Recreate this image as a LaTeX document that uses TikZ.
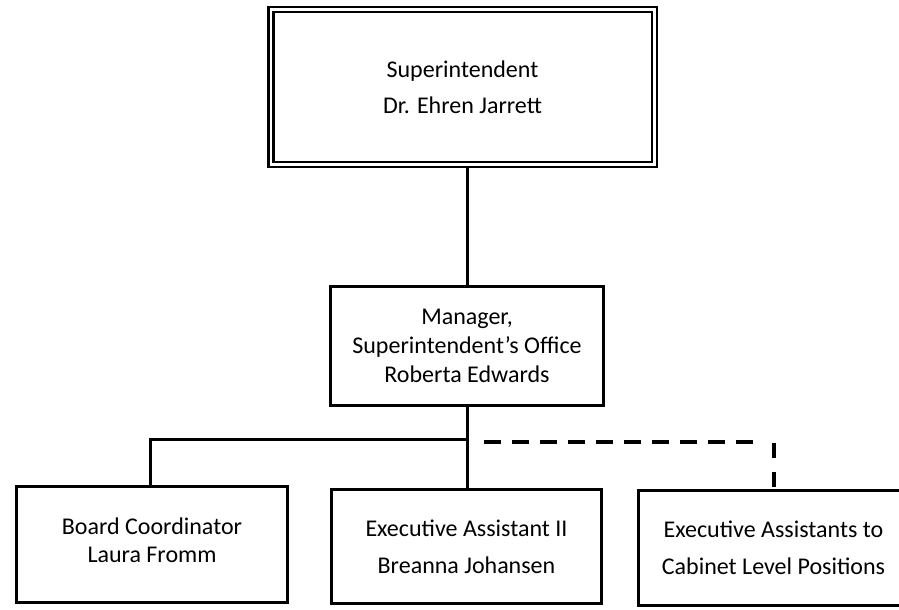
\documentclass[tikz,border=0pt]{standalone}
\usepackage{fontspec}
\setmainfont{Carlito}

\begin{document}
\begin{tikzpicture}[x=1pt, y=1pt,
    box/.style={draw=black, line width=3pt, fill=white, inner sep=0pt, align=center,
      font=\fontsize{24}{29}\selectfont},
    topbox/.style={box, double, line width=2.5pt, double distance=2.5pt, outer sep=3.75pt,
      font=\fontsize{24}{36}\selectfont},
    link/.style={line width=3pt},
    dashlink/.style={line width=4pt, dash pattern=on 17pt off 11pt}]
  \useasboundingbox (0,0) rectangle (899,-610);
  % boxes
  \node[topbox, minimum width=383.5pt, minimum height=154.5pt] (supt) at (462.5,-87)
    {Superintendent\\Dr. Ehren Jarrett};
  \node[box, minimum width=273pt, minimum height=119pt] (mgr) at (467,-346)
    {Manager,\\Superintendent’s Office\\Roberta Edwards};
  \node[box, minimum width=271pt, minimum height=116pt] (board) at (152,-544.5)
    {\raisebox{9pt}{\shortstack{Board Coordinator\\[9pt]Laura Fromm}}};
  \node[box, minimum width=270pt, minimum height=114pt, font=\fontsize{24}{37}\selectfont] (asst) at (466.5,-546.5)
    {Executive Assistant II\\Breanna Johansen};
  \node[box, minimum width=270pt, minimum height=115pt, font=\fontsize{24}{37}\selectfont] (cabinet) at (773.5,-548)
    {Executive Assistants to\\Cabinet Level Positions};
  % connectors
  \coordinate (split) at (150,-439);
  \coordinate (dashA) at (484,-442);
  \coordinate (dashB) at (753,-442);
  \coordinate (dashC) at (774,-443);
  \draw[link] (supt.south -| mgr.north) -- (mgr.north);
  \draw[link] (mgr.south) -- (mgr.south |- asst.north);
  \draw[link] (split -| mgr.south) -- (split) -- (split |- board.north);
  \draw[dashlink] (dashA) -- (dashB);
  \draw[line width=3.5pt, dash pattern=on 15pt off 14pt] (dashC) -- (dashC |- cabinet.north);
\end{tikzpicture}
\end{document}
